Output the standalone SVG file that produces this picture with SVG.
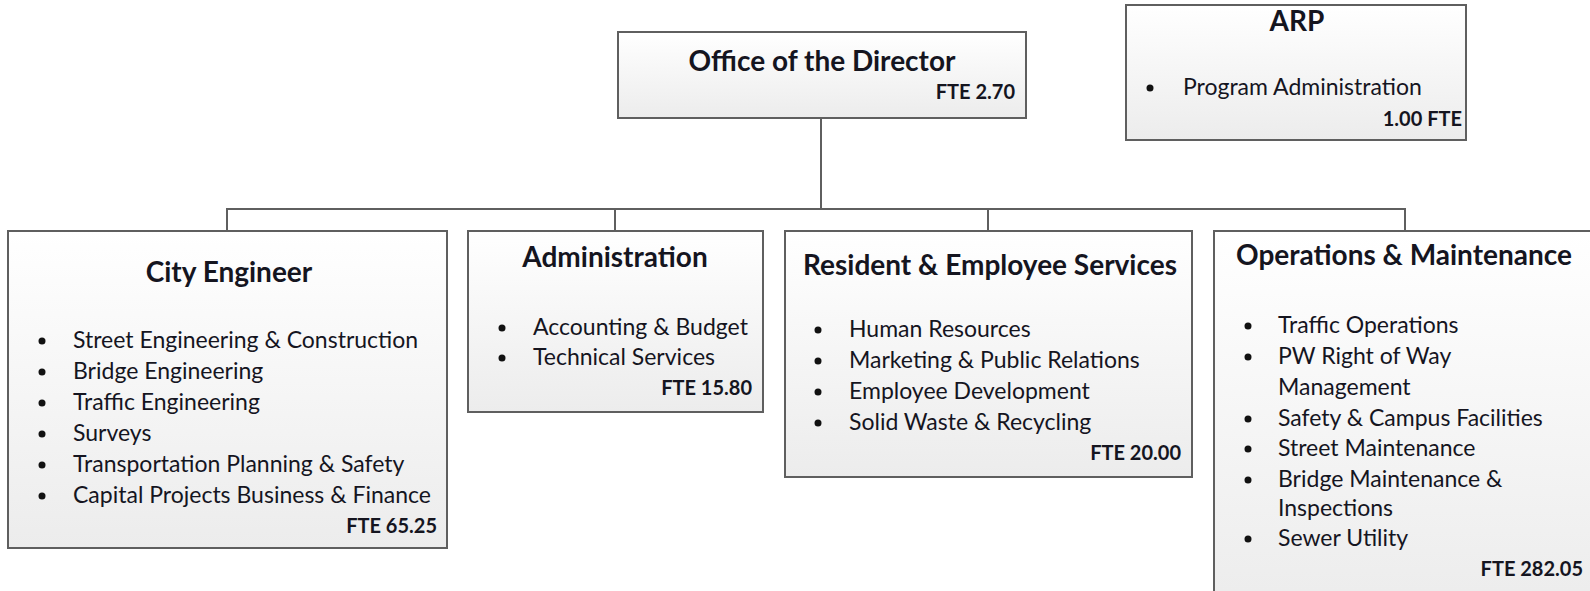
<svg xmlns="http://www.w3.org/2000/svg" width="1590" height="591" viewBox="0 0 1590 591">
<defs>
<linearGradient id="g" x1="0" y1="0" x2="0" y2="1">
<stop offset="0" stop-color="#ffffff"/>
<stop offset="1" stop-color="#ececec"/>
</linearGradient>
<style>
.box{fill:url(#g);stroke:#5f5f5f;stroke-width:2}
.ln{fill:none;stroke:#5f5f5f;stroke-width:2}
.t{font-family:Lato,"Liberation Sans",sans-serif;font-weight:bold;font-size:28px;fill:#15151f;text-anchor:middle}
.i{font-family:Lato,"Liberation Sans",sans-serif;font-size:23px;fill:#15151f}
.f{font-family:Lato,"Liberation Sans",sans-serif;font-weight:bold;font-size:20px;fill:#15151f;text-anchor:end}
.b{fill:#111}
</style>
</defs>
<rect width="1590" height="591" fill="#ffffff"/>
<g id="connectors">
<path class="ln" d="M821 118 V209"/>
<path class="ln" d="M227 231 V209 H1405 V231"/>
<path class="ln" d="M615 209 V231"/>
<path class="ln" d="M988 209 V231"/>
</g>
<g id="director">
<rect class="box" x="618" y="32" width="408" height="86"/>
<text class="t" x="822" y="71">Office of the Director</text>
<text class="f" x="1015" y="99">FTE 2.70</text>
</g>
<g id="arp">
<rect class="box" x="1126" y="5" width="340" height="135"/>
<text class="t" x="1297" y="31">ARP</text>
<circle class="b" cx="1150" cy="88" r="3.5"/>
<text class="i" x="1183" y="95">Program Administration</text>
<text class="f" x="1462" y="126">1.00 FTE</text>
</g>
<g id="city-engineer">
<rect class="box" x="8" y="231" width="439" height="317"/>
<text class="t" x="229" y="282">City Engineer</text>
<circle class="b" cx="42" cy="341" r="3.5"/>
<text class="i" x="73" y="348">Street Engineering &amp; Construction</text>
<circle class="b" cx="42" cy="372" r="3.5"/>
<text class="i" x="73" y="379">Bridge Engineering</text>
<circle class="b" cx="42" cy="403" r="3.5"/>
<text class="i" x="73" y="410">Traffic Engineering</text>
<circle class="b" cx="42" cy="434" r="3.5"/>
<text class="i" x="73" y="441">Surveys</text>
<circle class="b" cx="42" cy="465" r="3.5"/>
<text class="i" x="73" y="472">Transportation Planning &amp; Safety</text>
<circle class="b" cx="42" cy="496" r="3.5"/>
<text class="i" x="73" y="503">Capital Projects Business &amp; Finance</text>
<text class="f" x="437" y="533">FTE 65.25</text>
</g>
<g id="administration">
<rect class="box" x="468" y="231" width="295" height="181"/>
<text class="t" x="615" y="267">Administration</text>
<circle class="b" cx="502" cy="328" r="3.5"/>
<text class="i" x="533" y="335">Accounting &amp; Budget</text>
<circle class="b" cx="502" cy="358" r="3.5"/>
<text class="i" x="533" y="365">Technical Services</text>
<text class="f" x="752" y="395">FTE 15.80</text>
</g>
<g id="resident-employee-services">
<rect class="box" x="785" y="231" width="407" height="246"/>
<text class="t" x="990" y="275">Resident &amp; Employee Services</text>
<circle class="b" cx="818" cy="330" r="3.5"/>
<text class="i" x="849" y="337">Human Resources</text>
<circle class="b" cx="818" cy="361" r="3.5"/>
<text class="i" x="849" y="368">Marketing &amp; Public Relations</text>
<circle class="b" cx="818" cy="392" r="3.5"/>
<text class="i" x="849" y="399">Employee Development</text>
<circle class="b" cx="818" cy="423" r="3.5"/>
<text class="i" x="849" y="430">Solid Waste &amp; Recycling</text>
<text class="f" x="1181" y="460">FTE 20.00</text>
</g>
<g id="operations-maintenance">
<rect class="box" x="1214" y="231" width="390" height="380"/>
<text class="t" x="1404" y="265">Operations &amp; Maintenance</text>
<circle class="b" cx="1248" cy="326" r="3.5"/>
<text class="i" x="1278" y="333">Traffic Operations</text>
<circle class="b" cx="1248" cy="357" r="3.5"/>
<text class="i" x="1278" y="364">PW Right of Way</text>
<text class="i" x="1278" y="395">Management</text>
<circle class="b" cx="1248" cy="419" r="3.5"/>
<text class="i" x="1278" y="426">Safety &amp; Campus Facilities</text>
<circle class="b" cx="1248" cy="449" r="3.5"/>
<text class="i" x="1278" y="456">Street Maintenance</text>
<circle class="b" cx="1248" cy="480" r="3.5"/>
<text class="i" x="1278" y="487">Bridge Maintenance &amp;</text>
<text class="i" x="1278" y="516">Inspections</text>
<circle class="b" cx="1248" cy="539" r="3.5"/>
<text class="i" x="1278" y="546">Sewer Utility</text>
<text class="f" x="1583" y="576">FTE 282.05</text>
</g>
</svg>
